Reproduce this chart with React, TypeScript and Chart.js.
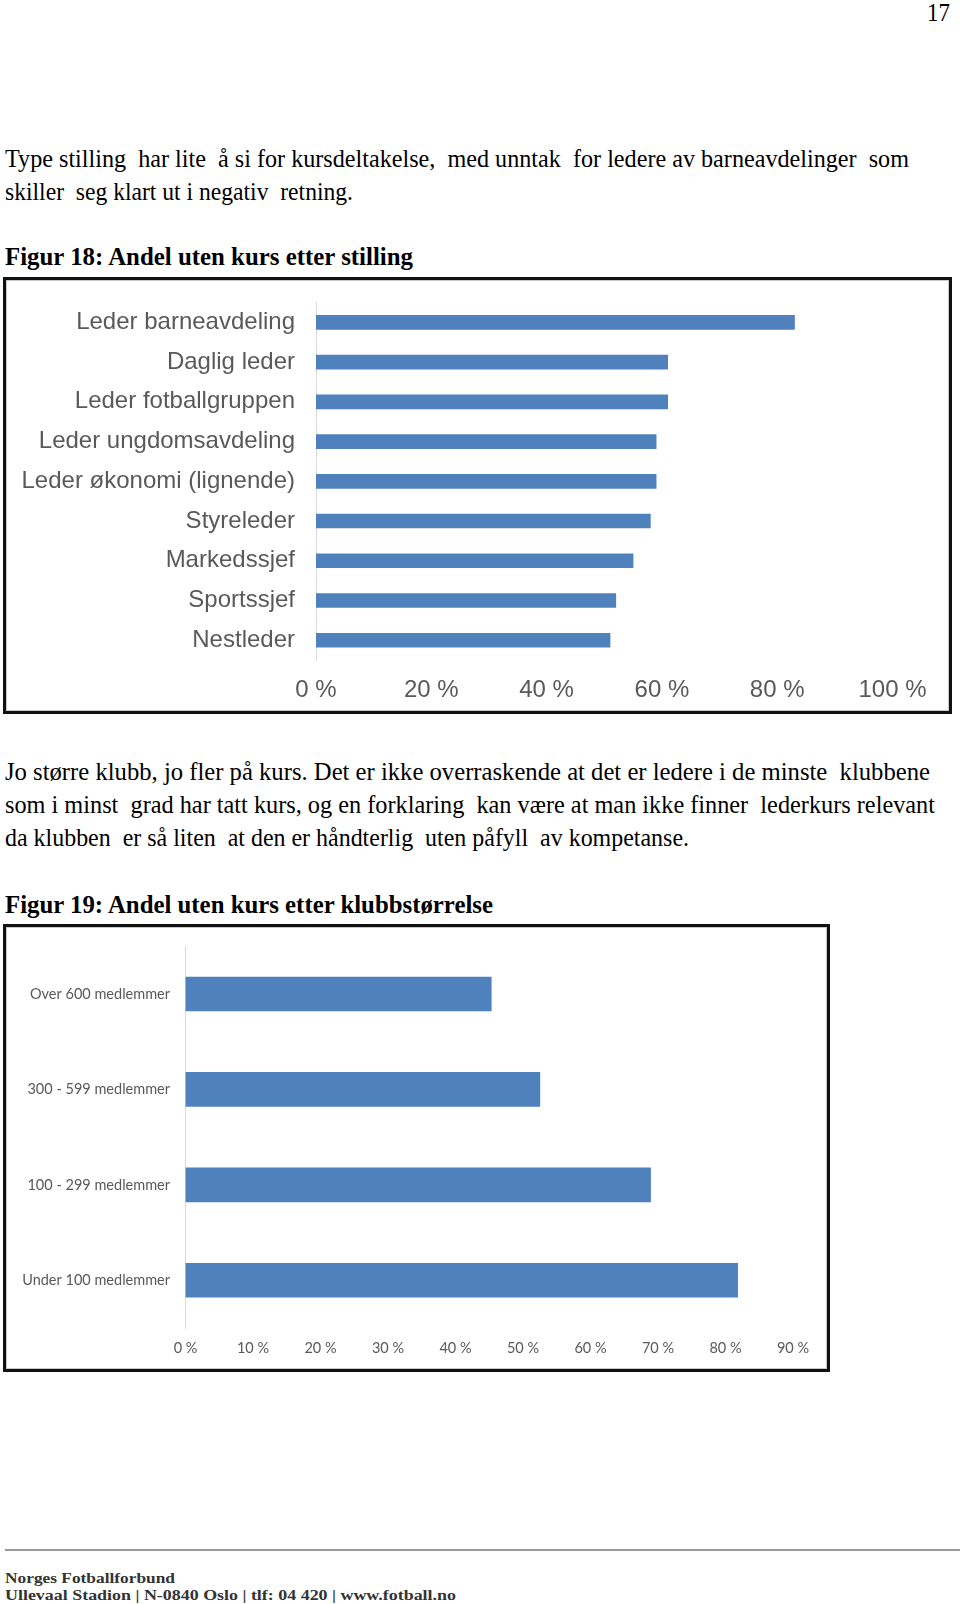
import React, { useEffect, useLayoutEffect, useRef } from "react";
import { Chart, registerables } from "chart.js";

Chart.register(...registerables);

// ---------- Data ----------
const positionLabels = [
  "Leder barneavdeling",
  "Daglig leder",
  "Leder fotballgruppen",
  "Leder ungdomsavdeling",
  "Leder økonomi (lignende)",
  "Styreleder",
  "Markedssjef",
  "Sportssjef",
  "Nestleder",
];
const positionValues = [83, 61, 61, 59, 59, 58, 55, 52, 51];
const positionTicks = [0, 20, 40, 60, 80, 100];

const sizeLabels = [
  "Over 600 medlemmer",
  "300 - 599 medlemmer",
  "100 - 299 medlemmer",
  "Under 100 medlemmer",
];
const sizeValues = [45.3, 52.5, 68.9, 81.8];
const sizeTicks = [0, 10, 20, 30, 40, 50, 60, 70, 80, 90];

// ---------- Text helpers ----------
const SERIF = '"Liberation Serif", "Times New Roman", serif';

type FitProps = {
  text: string;
  left: number;
  baseline: number;
  width: number;
  size: number;
  weight?: number;
  family?: string;
  color?: string;
};

function FitLine({ text, left, baseline, width, size, weight = 400, family = SERIF, color = "#000" }: FitProps) {
  const ref = useRef<HTMLSpanElement>(null);
  useLayoutEffect(() => {
    const el = ref.current;
    if (!el) return;
    el.style.transform = "none";
    const w = el.getBoundingClientRect().width;
    if (w > 0) el.style.transform = `scaleX(${width / w})`;
  }, [text, width, size]);
  return (
    <span
      ref={ref}
      style={{
        position: "absolute",
        left,
        top: baseline - 0.8375 * size,
        fontSize: size,
        lineHeight: `${size}px`,
        fontFamily: family,
        fontWeight: weight,
        color,
        whiteSpace: "pre",
        display: "inline-block",
        transformOrigin: "0 0",
      }}
    >
      {text}
    </span>
  );
}

// ---------- Chart ----------
type BarProps = {
  labels: string[];
  values: number[];
  ticks: number[];
  width: number;
  height: number;
  plotLeft: number;
  padTop: number;
  padRight: number;
  xAxisHeight: number;
  xTickPad: number;
  yTickPad: number;
  barThickness: number;
  fontFamily: string;
  fontSize: number;
  tickSuffix: string;
};

function HBar(p: BarProps) {
  const ref = useRef<HTMLCanvasElement>(null);
  useEffect(() => {
    if (!ref.current) return;
    const font = { family: p.fontFamily, size: p.fontSize };
    const chart = new Chart(ref.current, {
      type: "bar",
      data: {
        labels: p.labels,
        datasets: [
          {
            data: p.values,
            backgroundColor: "#4f81bd",
            borderWidth: 0,
            barThickness: p.barThickness,
          },
        ],
      },
      options: {
        indexAxis: "y",
        responsive: false,
        animation: false,
        layout: { padding: { top: p.padTop, right: p.padRight, left: 0, bottom: 0 } },
        plugins: { legend: { display: false }, tooltip: { enabled: false } },
        scales: {
          x: {
            min: p.ticks[0],
            max: p.ticks[p.ticks.length - 1],
            grid: { display: false, drawTicks: false },
            border: { display: false },
            ticks: {
              color: "#595959",
              font,
              padding: p.xTickPad,
              autoSkip: false,
              maxRotation: 0,
              callback: (v: any) => `${v}${p.tickSuffix}`,
            },
            afterBuildTicks: (s: any) => {
              s.ticks = p.ticks.map((v) => ({ value: v }));
            },
            afterFit: (s: any) => {
              s.height = p.xAxisHeight;
              s.paddingLeft = 0;
              s.paddingRight = 0;
            },
          },
          y: {
            grid: { display: false, drawTicks: false },
            border: { display: true, color: "#d9d9d9", width: 1 },
            ticks: { color: "#595959", font, padding: p.yTickPad, autoSkip: false },
            afterFit: (s: any) => {
              s.width = p.plotLeft;
              s.paddingTop = 0;
              s.paddingBottom = 0;
            },
          },
        },
      } as any,
    });
    return () => chart.destroy();
  }, []);
  return <canvas ref={ref} width={p.width} height={p.height} style={{ display: "block", width: p.width, height: p.height }} />;
}

const frameStyle = (left: number, top: number, w: number, h: number): React.CSSProperties => ({
  position: "absolute",
  left,
  top,
  width: w,
  height: h,
  boxSizing: "border-box",
  border: "3px solid #111",
  boxShadow: "inset 0 0 0 1px #c8c8c8",
  background: "#fff",
});

export default function App() {
  return (
    <div
      style={{
        position: "absolute",
        left: 0,
        top: 0,
        width: 960,
        height: 1604,
        background: "#fff",
        overflow: "hidden",
      }}
    >
      <FitLine text="17" left={927} baseline={20.5} width={23} size={25} />

      <FitLine
        text="Type stilling  har lite  å si for kursdeltakelse,  med unntak  for ledere av barneavdelinger  som"
        left={5}
        baseline={167}
        width={904}
        size={25}
      />
      <FitLine text="skiller  seg klart ut i negativ  retning." left={5} baseline={200} width={348} size={25} />

      <FitLine text="Figur 18: Andel uten kurs etter stilling" left={5} baseline={265} width={408} size={25} weight={700} />

      <div style={frameStyle(3, 277, 949, 437)}>
        <HBar
          labels={positionLabels}
          values={positionValues}
          ticks={positionTicks}
          width={943}
          height={431}
          plotLeft={310}
          padTop={22.5}
          padRight={56.5}
          xAxisHeight={50.9}
          xTickPad={15.5}
          yTickPad={21}
          barThickness={14}
          fontFamily='"Liberation Sans", Arial, sans-serif'
          fontSize={24}
          tickSuffix=" %"
        />
      </div>

      <FitLine
        text="Jo større klubb, jo fler på kurs. Det er ikke overraskende at det er ledere i de minste  klubbene"
        left={5}
        baseline={780}
        width={925}
        size={25}
      />
      <FitLine
        text="som i minst  grad har tatt kurs, og en forklaring  kan være at man ikke finner  lederkurs relevant"
        left={5}
        baseline={813}
        width={930}
        size={25}
      />
      <FitLine
        text="da klubben  er så liten  at den er håndterlig  uten påfyll  av kompetanse."
        left={5}
        baseline={846}
        width={684}
        size={25}
      />

      <FitLine text="Figur 19: Andel uten kurs etter klubbstørrelse" left={5} baseline={913} width={488} size={25} weight={700} />

      <div style={frameStyle(3, 924, 827, 448)}>
        <HBar
          labels={sizeLabels}
          values={sizeValues}
          ticks={sizeTicks}
          width={821}
          height={442}
          plotLeft={179.5}
          padTop={19.3}
          padRight={34}
          xAxisHeight={41}
          xTickPad={11.5}
          yTickPad={15.5}
          barThickness={34}
          fontFamily="Lato, 'Open Sans', sans-serif"
          fontSize={14.5}
          tickSuffix=" %"
        />
      </div>

      <div style={{ position: "absolute", left: 5, top: 1549, width: 955, height: 2, background: "#9a9a9a" }} />

      <FitLine text="Norges Fotballforbund" left={5} baseline={1584} width={170} size={15} weight={700} color="#333" />
      <FitLine
        text="Ullevaal Stadion | N-0840 Oslo | tlf: 04 420 | www.fotball.no"
        left={5}
        baseline={1601}
        width={451}
        size={15}
        weight={700}
        color="#333"
      />
    </div>
  );
}
